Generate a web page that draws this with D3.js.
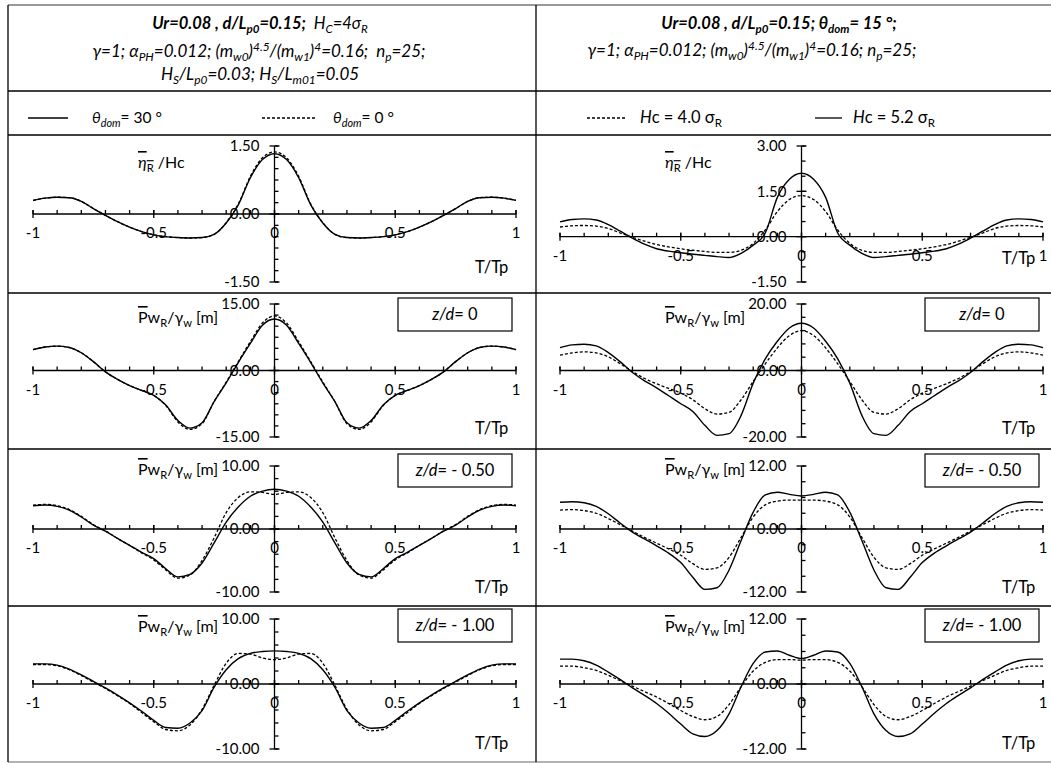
<!DOCTYPE html>
<html><head><meta charset="utf-8">
<script src="https://cdn.jsdelivr.net/npm/d3@7"></script>
<style>
body{margin:0;background:#fff}
svg{display:block}
text{font-family:Lato,"Open Sans",sans-serif;fill:#000;white-space:pre}
</style>
</head><body>
<svg id="c" width="1051" height="763"></svg>
<script>
// ---------- data ----------
const tValues = [-1,-0.95,-0.9,-0.85,-0.8,-0.75,-0.7,-0.65,-0.6,-0.55,-0.5,-0.45,-0.4,-0.35,-0.3,-0.25,-0.2,-0.15,-0.1,-0.05,0,0.05,0.1,0.15,0.2,0.25,0.3,0.35,0.4,0.45,0.5,0.55,0.6,0.65,0.7,0.75,0.8,0.85,0.9,0.95,1];

const etaL_30 = [0.30,0.35,0.37,0.36,0.28,0.12,-0.03,-0.17,-0.29,-0.39,-0.46,-0.50,-0.52,-0.53,-0.52,-0.45,-0.20,0.20,0.80,1.20,1.33,1.20,0.80,0.20,-0.20,-0.45,-0.52,-0.53,-0.52,-0.50,-0.46,-0.39,-0.29,-0.17,-0.03,0.12,0.28,0.36,0.37,0.35,0.30];
const etaL_0  = [0.30,0.35,0.37,0.36,0.28,0.12,-0.03,-0.17,-0.29,-0.39,-0.46,-0.50,-0.52,-0.53,-0.52,-0.45,-0.19,0.22,0.83,1.24,1.37,1.24,0.83,0.22,-0.19,-0.45,-0.52,-0.53,-0.52,-0.50,-0.46,-0.39,-0.29,-0.17,-0.03,0.12,0.28,0.36,0.37,0.35,0.30];
const etaR_52 = [0.49,0.57,0.59,0.55,0.40,0.18,-0.05,-0.25,-0.40,-0.48,-0.53,-0.58,-0.62,-0.66,-0.69,-0.55,-0.28,0.12,1.30,1.90,2.10,1.90,1.30,0.12,-0.28,-0.55,-0.69,-0.66,-0.62,-0.58,-0.53,-0.48,-0.40,-0.25,-0.05,0.18,0.40,0.55,0.59,0.57,0.49];
const etaR_40 = [0.32,0.36,0.37,0.35,0.27,0.12,-0.02,-0.15,-0.26,-0.34,-0.40,-0.45,-0.49,-0.52,-0.52,-0.45,-0.22,0.22,0.83,1.23,1.36,1.23,0.83,0.22,-0.22,-0.45,-0.52,-0.52,-0.49,-0.45,-0.40,-0.34,-0.26,-0.15,-0.02,0.12,0.27,0.35,0.37,0.36,0.32];

const pwL0_30 = [4.7,5.3,5.5,5.2,4.0,2.0,-0.3,-2.0,-3.4,-4.5,-5.6,-7.8,-11.3,-13.0,-11.8,-7.0,-2.8,1.8,6.1,10.2,11.6,10.2,6.1,1.8,-2.8,-7.0,-11.8,-13.0,-11.3,-7.8,-5.6,-4.5,-3.4,-2.0,-0.3,2.0,4.0,5.2,5.5,5.3,4.7];
const pwL0_0  = [4.7,5.3,5.5,5.2,4.0,2.0,-0.3,-2.0,-3.4,-4.5,-5.6,-7.9,-11.6,-13.3,-12.0,-7.0,-2.6,2.0,6.5,10.7,12.3,10.7,6.5,2.0,-2.6,-7.0,-12.0,-13.3,-11.6,-7.9,-5.6,-4.5,-3.4,-2.0,-0.3,2.0,4.0,5.2,5.5,5.3,4.7];
const pwR0_52 = [6.9,7.7,7.9,7.4,5.4,2.6,-0.6,-3.1,-5.2,-7.6,-10.0,-12.3,-16.5,-19.5,-19.0,-13.5,-3.8,3.5,8.8,12.8,14.2,12.8,8.8,3.5,-3.8,-13.5,-19.0,-19.5,-16.5,-12.3,-10.0,-7.6,-5.2,-3.1,-0.6,2.6,5.4,7.4,7.9,7.7,6.9];
const pwR0_40 = [4.6,5.3,5.6,5.3,4.1,2.0,-0.3,-2.4,-4.0,-5.4,-6.8,-8.8,-11.5,-13.1,-12.6,-8.8,-3.3,2.0,6.8,10.5,12.0,10.5,6.8,2.0,-3.3,-8.8,-12.6,-13.1,-11.5,-8.8,-6.8,-5.4,-4.0,-2.4,-0.3,2.0,4.1,5.3,5.6,5.3,4.6];

const pwL05_30 = [3.7,3.8,3.6,3.0,1.9,0.6,-0.35,-1.5,-2.6,-3.7,-4.7,-6.3,-7.6,-7.2,-5.4,-2.2,1.1,3.5,5.2,6.0,6.3,6.0,5.2,3.5,1.1,-2.2,-5.4,-7.2,-7.6,-6.3,-4.7,-3.7,-2.6,-1.5,-0.35,0.6,1.9,3.0,3.6,3.8,3.7];
const pwL05_0  = [3.8,3.9,3.7,3.1,2.0,0.7,-0.3,-1.5,-2.6,-3.8,-4.9,-6.5,-7.8,-7.3,-5.0,-1.4,2.6,5.0,5.9,5.8,5.5,5.8,5.9,5.0,2.6,-1.4,-5.0,-7.3,-7.8,-6.5,-4.9,-3.8,-2.6,-1.5,-0.3,0.7,2.0,3.1,3.7,3.9,3.8];
const pwR05_52 = [5.1,5.2,5.0,4.3,2.9,1.1,-0.6,-1.9,-3.2,-4.6,-6.4,-9.2,-11.5,-11.2,-7.8,-2.2,3.2,6.5,7.0,6.6,6.3,6.6,7.0,6.5,3.2,-2.2,-7.8,-11.2,-11.5,-9.2,-6.4,-4.6,-3.2,-1.9,-0.6,1.1,2.9,4.3,5.0,5.2,5.1];
const pwR05_40 = [3.6,3.7,3.5,3.0,2.0,0.8,-0.4,-1.6,-2.7,-3.8,-5.0,-6.6,-7.7,-7.4,-5.4,-1.6,2.3,4.6,5.3,5.5,5.5,5.5,5.3,4.6,2.3,-1.6,-5.4,-7.4,-7.7,-6.6,-5.0,-3.8,-2.7,-1.6,-0.4,0.8,2.0,3.0,3.5,3.7,3.6];

const pwL1_30 = [3.1,3.1,2.9,2.3,1.4,0.4,-0.6,-1.7,-2.9,-4.2,-5.6,-6.7,-6.8,-6.0,-4.1,-0.5,2.2,3.9,4.7,5.0,5.1,5.0,4.7,3.9,2.2,-0.5,-4.1,-6.0,-6.8,-6.7,-5.6,-4.2,-2.9,-1.7,-0.6,0.4,1.4,2.3,2.9,3.1,3.1];
const pwL1_0  = [3.0,3.0,2.8,2.2,1.3,0.3,-0.7,-1.8,-3.0,-4.4,-5.8,-7.0,-7.2,-6.3,-3.9,-0.2,3.2,4.7,4.6,4.0,3.75,4.0,4.6,4.7,3.2,-0.2,-3.9,-6.3,-7.2,-7.0,-5.8,-4.4,-3.0,-1.8,-0.7,0.3,1.3,2.2,2.8,3.0,3.0];
const pwR1_52 = [4.6,4.6,4.3,3.5,2.2,0.8,-0.7,-2.1,-3.6,-5.4,-7.4,-9.2,-9.7,-8.6,-5.5,-0.5,3.8,5.9,6.1,5.3,4.7,5.3,6.1,5.9,3.8,-0.5,-5.5,-8.6,-9.7,-9.2,-7.4,-5.4,-3.6,-2.1,-0.7,0.8,2.2,3.5,4.3,4.6,4.6];
const pwR1_40 = [3.3,3.3,3.0,2.5,1.6,0.6,-0.4,-1.4,-2.4,-3.6,-4.9,-6.0,-6.6,-6.0,-3.8,-0.5,2.4,4.0,4.5,4.5,4.4,4.5,4.5,4.0,2.4,-0.5,-3.8,-6.0,-6.6,-6.0,-4.9,-3.6,-2.4,-1.4,-0.4,0.6,1.6,2.5,3.0,3.3,3.3];

const xTickValues = [-1,-0.5,0,0.5,1];
const xTickLabels = ["-1","-0.5","0","0.5","1"];
const zLabels = ["0","- 0.50","- 1.00"];

const yTicksL = [[1.5,0,-1.5],[15,0,-15],[10,0,-10],[10,0,-10]];
const yLabelsL = [["1.50","0.00","-1.50"],["15.00","0.00","-15.00"],["10.00","0.00","-10.00"],["10.00","0.00","-10.00"]];
const yTicksR = [[3,1.5,0,-1.5],[20,0,-20],[12,0,-12],[12,0,-12]];
const yLabelsR = [["3.00","1.50","0.00","-1.50"],["20.00","0.00","-20.00"],["12.00","0.00","-12.00"],["12.00","0.00","-12.00"]];
const yMinorL = [0.25,2.5,2,2];
const yMinorR = [0.5,4,3,3];

// ---------- layout ----------
const svg = d3.select("#c");
const cols = [{x0:33,x1:516,labX:138,tpX:475,boxX:398},{x0:560,x1:1043,labX:665,tpX:1002,boxX:925}];
const rows = [
  {top:135,yTop:146,yBot:282,labY:163,tpY:[267,258]},
  {top:293,yTop:304,yBot:437,labY:318,tpY:[428,428],boxY:298},
  {top:449,yTop:466,yBot:592,labY:470,tpY:[587,587],boxY:454},
  {top:606,yTop:619,yBot:749,labY:627,tpY:[743,743],boxY:609}
];

const seriesL = [[etaL_30,etaL_0],[pwL0_30,pwL0_0],[pwL05_30,pwL05_0],[pwL1_30,pwL1_0]];
const seriesR = [[etaR_52,etaR_40],[pwR0_52,pwR0_40],[pwR05_52,pwR05_40],[pwR1_52,pwR1_40]];

function rich(parent, x, y, anchor, size, segs){
  const t = parent.append("text").attr("x",x).attr("y",y).attr("text-anchor",anchor).attr("font-size",size);
  let shift = 0;
  segs.forEach(s=>{
    const ts = t.append("tspan").text(s.t);
    let target = 0, fs = size;
    if (s.sub){ target = size*0.26; fs = size*0.7; }
    if (s.sup){ target = -size*0.36; fs = size*0.7; }
    ts.attr("dy", target - shift); shift = target;
    ts.attr("font-size", fs);
    if (s.b) ts.attr("font-weight","bold");
    if (s.i) ts.attr("font-style","italic");
    if (s.o) ts.style("text-decoration","overline");
  });
  return t;
}

// ---------- grid ----------
const grid = svg.append("g").attr("stroke","#000").attr("stroke-width",1.3);
grid.append("line").attr("x1",8).attr("x2",1051).attr("y1",5).attr("y2",5).attr("stroke","#777");
[91,135,293,449,606].forEach(yy=>grid.append("line").attr("x1",8).attr("x2",1051).attr("y1",yy).attr("y2",yy));
grid.append("line").attr("x1",8).attr("x2",1051).attr("y1",762).attr("y2",762).attr("stroke","#999");
grid.append("line").attr("x1",8).attr("x2",8).attr("y1",5).attr("y2",762);
grid.append("line").attr("x1",536).attr("x2",536).attr("y1",5).attr("y2",762);

// ---------- headers ----------
const H = svg.append("g");
const bi = {b:1,i:1};
rich(H,260,29,"middle",16.5,[
  {t:"Ur=0.08 , d/L",...bi},{t:"p0",sub:1,...bi},{t:"=0.15;",...bi},{t:"  H",i:1},{t:"C",sub:1,i:1},{t:"=4σ",i:1},{t:"R",sub:1,i:1}
]);
const line2 = (sp)=>[
  {t:"γ=1; α",i:1},{t:"PH",sub:1,i:1},{t:"=0.012; (m",i:1},{t:"w0",sub:1,i:1},{t:")",i:1},{t:"4.5",sup:1,i:1},
  {t:"/(m",i:1},{t:"w1",sub:1,i:1},{t:")",i:1},{t:"4",sup:1,i:1},{t:"=0.16;"+sp+"n",i:1},{t:"p",sub:1,i:1},{t:"=25;",i:1}
];
rich(H,259,57,"middle",17,line2("  "));
rich(H,260,80,"middle",17,[
  {t:"H",i:1},{t:"S",sub:1,i:1},{t:"/L",i:1},{t:"p0",sub:1,i:1},{t:"=0.03; H",i:1},{t:"S",sub:1,i:1},{t:"/L",i:1},{t:"m01",sub:1,i:1},{t:"=0.05",i:1}
]);
rich(H,779,29,"middle",16.5,[
  {t:"Ur=0.08 , d/L",...bi},{t:"p0",sub:1,...bi},{t:"=0.15; θ",...bi},{t:"dom",sub:1,...bi},{t:"= 15 °;",...bi}
]);
rich(H,752,56,"middle",17,line2(" "));

// ---------- legends ----------
const L = svg.append("g");
L.append("line").attr("x1",28).attr("x2",68).attr("y1",118).attr("y2",118).attr("stroke","#000").attr("stroke-width",1.3);
rich(L,92,123,"start",15.5,[{t:"θ",i:1},{t:"dom",sub:1,i:1},{t:"= 30 °"}]);
L.append("line").attr("x1",262).attr("x2",315).attr("y1",118).attr("y2",118).attr("stroke","#000").attr("stroke-width",1.3).attr("stroke-dasharray","3,2");
rich(L,333,123,"start",15.5,[{t:"θ",i:1},{t:"dom",sub:1,i:1},{t:"= 0 °"}]);
L.append("line").attr("x1",587).attr("x2",625).attr("y1",118).attr("y2",118).attr("stroke","#000").attr("stroke-width",1.3).attr("stroke-dasharray","3,2");
rich(L,640,123,"start",16.5,[{t:"H",i:1},{t:"c = 4.0 σ"},{t:"R",sub:1}]);
L.append("line").attr("x1",815).attr("x2",842).attr("y1",118).attr("y2",118).attr("stroke","#000").attr("stroke-width",1.3);
rich(L,853,123,"start",16.5,[{t:"H",i:1},{t:"c = 5.2 σ"},{t:"R",sub:1}]);

// ---------- panels ----------
function panel(ci, ri){
  const c = cols[ci], r = rows[ri];
  const yt = ci===0 ? yTicksL[ri] : yTicksR[ri];
  const yl = ci===0 ? yLabelsL[ri] : yLabelsR[ri];
  const ystep = ci===0 ? yMinorL[ri] : yMinorR[ri];
  const ser = ci===0 ? seriesL[ri] : seriesR[ri];
  const x = d3.scaleLinear().domain([-1,1]).range([c.x0,c.x1]);
  const y = d3.scaleLinear().domain([d3.min(yt), d3.max(yt)]).range([r.yBot, r.yTop]);
  const g = svg.append("g");
  const X0 = x(0), Y0 = y(0);
  const ax = g.append("g").attr("stroke","#000").attr("stroke-width",1.3);
  ax.append("line").attr("x1",x(-1)).attr("x2",x(1)).attr("y1",Y0).attr("y2",Y0);
  ax.append("line").attr("x1",X0).attr("x2",X0).attr("y1",y(d3.max(yt))).attr("y2",y(d3.min(yt)));
  ax.selectAll(".xm").data(x.ticks(20)).join("line")
    .attr("x1",d=>x(d)).attr("x2",d=>x(d)).attr("y1",Y0-4).attr("y2",Y0);
  ax.selectAll(".xM").data(xTickValues).join("line")
    .attr("x1",d=>x(d)).attr("x2",d=>x(d)).attr("y1",Y0-4).attr("y2",Y0+4);
  const ym = d3.range(Math.round(d3.min(yt)/ystep), Math.round(d3.max(yt)/ystep)+1).map(k=>k*ystep);
  ax.selectAll(".ym").data(ym).join("line")
    .attr("x1",X0).attr("x2",X0+4).attr("y1",d=>y(d)).attr("y2",d=>y(d));
  ax.selectAll(".yM").data(yt).join("line")
    .attr("x1",X0-5).attr("x2",X0+5).attr("y1",d=>y(d)).attr("y2",d=>y(d));
  g.selectAll(".yl").data(yt).join("text")
    .attr("x",X0-15).attr("y",d=>y(d)).attr("dy","0.35em").attr("text-anchor","end").attr("font-size",15)
    .text((d,i)=>yl[i]);
  g.selectAll(".xl").data(xTickValues).join("text")
    .attr("x",d=>x(d)).attr("y",Y0+19).attr("dy","0.35em").attr("text-anchor","middle").attr("font-size",15)
    .text((d,i)=>xTickLabels[i]);
  if (ri===0){
    rich(g,c.labX,r.labY+5,"start",16,[{t:"η",i:1,o:1},{t:"R",sub:1,o:1},{t:" /Hc"}]);
  } else {
    rich(g,c.labX,r.labY+5,"start",16,[{t:"P",o:1},{t:"w"},{t:"R",sub:1},{t:"/γ"},{t:"w",sub:1},{t:" [m]"}]);
  }
  g.append("text").attr("x",c.tpX).attr("y",r.tpY[ci]).attr("dy","0.35em").attr("font-size",16.5).text("T/Tp");
  if (ri>0){
    g.append("rect").attr("x",c.boxX).attr("y",r.boxY).attr("width",114).attr("height",33)
      .attr("fill","#fff").attr("stroke","#000").attr("stroke-width",1.2);
    rich(g,c.boxX+57,r.boxY+22,"middle",16.5,[{t:"z/d",i:1},{t:"= "+zLabels[ri-1]}]);
  }
  const line = d3.line().x((d,i)=>x(tValues[i])).y(d=>y(d)).curve(d3.curveMonotoneX);
  g.append("path").attr("d",line(ser[0])).attr("fill","none").attr("stroke","#000").attr("stroke-width",1.4);
  g.append("path").attr("d",line(ser[1])).attr("fill","none").attr("stroke","#000").attr("stroke-width",1.3).attr("stroke-dasharray","3,2");
}
for (let ri=0; ri<4; ri++){ panel(0,ri); panel(1,ri); }
</script>
</body></html>
